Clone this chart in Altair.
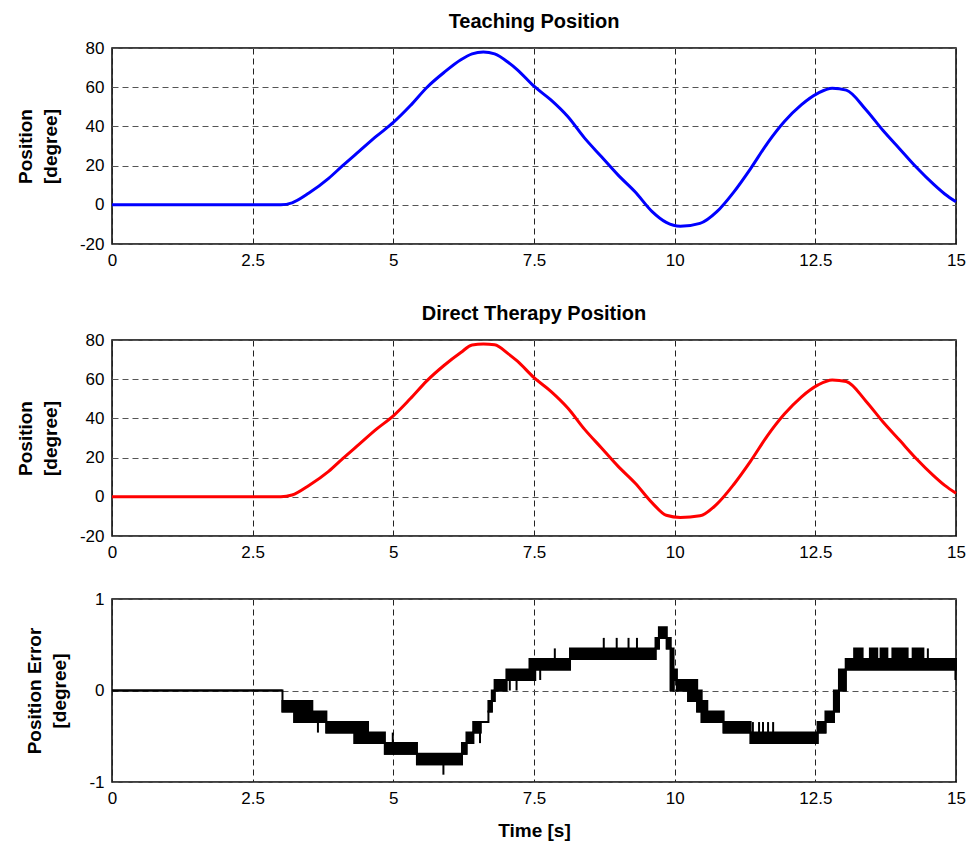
import altair as alt
import pandas as pd

# ---------------- data ----------------
time_s = [0, 3.0, 3.2, 3.5, 3.85, 4.1, 4.4, 4.7, 5.0, 5.3, 5.6, 5.9, 6.2, 6.4, 6.6,
          6.8, 7.05, 7.2, 7.5, 7.8, 8.1, 8.4, 8.7, 9.0, 9.3, 9.6, 9.85, 10.1, 10.45,
          10.75, 11.05, 11.35, 11.65, 11.95, 12.25, 12.55, 12.8, 13.05, 13.4, 13.7,
          14.0, 14.3, 14.6, 14.8, 15.0]
teaching_deg = [0, 0, 1.0, 6.0, 13.5, 20.0, 27.5, 35.0, 42.0, 50.5, 60.0, 67.5, 74.0,
                77.0, 78.0, 77.0, 72.5, 69.0, 60.5, 53.5, 45.0, 34.0, 24.5, 15.0, 6.5,
                -3.5, -9.0, -11.0, -9.5, -3.5, 6.5, 18.5, 31.5, 42.5, 51.0, 57.0, 59.5,
                58.5, 48.5, 38.0, 28.5, 19.0, 10.5, 5.5, 1.5]
direct_deg = [0, 0, 0.9, 5.8, 13.0, 19.5, 27.0, 34.5, 41.3, 50.0, 59.3, 67.0, 73.6,
              77.5, 78.0, 77.6, 72.8, 69.3, 60.8, 53.8, 45.3, 34.4, 24.9, 15.4, 6.9,
              -3.1, -9.4, -10.5, -9.7, -3.7, 6.3, 18.2, 31.2, 42.2, 50.9, 57.1, 59.6,
              58.8, 48.8, 38.3, 28.8, 19.3, 10.8, 5.8, 1.8]

# position error: quantised segments (start, end, lower level, upper level)
seg_start = [0, 3.03, 3.24, 3.56, 3.81, 4.31, 4.55, 4.85, 5.42, 6.22, 6.30, 6.42, 6.55,
             6.69, 6.75, 6.80, 7.01, 7.42, 7.52, 8.14, 9.66, 9.72, 9.86, 9.93, 9.98,
             10.04, 10.24, 10.40, 10.48, 10.58, 10.87, 11.35, 12.54, 12.68, 12.83,
             12.92, 13.04]
seg_end = [3.03, 3.24, 3.56, 3.81, 4.31, 4.55, 4.85, 5.42, 6.22, 6.30, 6.42, 6.55, 6.69,
           6.75, 6.80, 7.01, 7.42, 7.52, 8.14, 9.66, 9.72, 9.86, 9.93, 9.98, 10.04,
           10.24, 10.40, 10.48, 10.58, 10.87, 11.35, 12.54, 12.68, 12.83, 12.92,
           13.04, 15.0]
seg_low = [0, -0.23, -0.345, -0.345, -0.46, -0.575, -0.575, -0.69, -0.805, -0.69,
           -0.575, -0.46, -0.345, -0.23, -0.115, 0, 0.115, 0.115, 0.23, 0.345, 0.46,
           0.575, 0.46, 0, 0.115, 0, -0.115, -0.23, -0.345, -0.345, -0.46, -0.575,
           -0.46, -0.345, -0.23, 0, 0.23]
seg_high = [0, -0.115, -0.115, -0.23, -0.345, -0.345, -0.46, -0.575, -0.69, -0.575,
            -0.46, -0.345, -0.345, -0.115, 0, 0.115, 0.23, 0.345, 0.345, 0.46, 0.575,
            0.69, 0.575, 0.46, 0.23, 0.115, 0.115, 0, -0.115, -0.23, -0.345, -0.46,
            -0.345, -0.23, 0, 0.23, 0.345]

burst_start = [13.19, 13.47, 13.66, 13.87, 14.23]
burst_end = [13.34, 13.60, 13.78, 14.14, 14.42]
burst_low = [0.345, 0.345, 0.345, 0.345, 0.345]
burst_high = [0.46, 0.46, 0.46, 0.46, 0.46]

spike_time = [3.66, 4.99, 5.89, 6.54, 7.07, 7.19, 7.61, 7.87, 8.74, 8.97, 9.18, 9.33,
              11.39, 11.50, 11.57, 11.66, 11.75, 14.50, 14.99]
spike_low = [-0.46, -0.575, -0.92, -0.575, 0, 0, 0.115, 0.345, 0.46, 0.46, 0.46, 0.46,
             -0.46, -0.46, -0.46, -0.46, -0.46, 0.345, 0.115]
spike_high = [-0.345, -0.46, -0.805, -0.46, 0.115, 0.115, 0.23, 0.46, 0.575, 0.575,
              0.575, 0.575, -0.345, -0.345, -0.345, -0.345, -0.345, 0.46, 0.23]

x_ticks = [0, 2.5, 5, 7.5, 10, 12.5, 15]
pos_ticks = [-20, 0, 20, 40, 60, 80]
err_ticks = [-1, 0, 1]

# ---------------- tables ----------------
teach_df = pd.DataFrame({"t": time_s, "v": teaching_deg})
direct_df = pd.DataFrame({"t": time_s, "v": direct_deg})
seg_df = pd.DataFrame({"t0": seg_start, "t1": seg_end, "lo": seg_low, "hi": seg_high})
step_df = pd.DataFrame({"t": seg_start + [seg_end[-1]], "v": seg_low + [seg_low[-1]]})
burst_df = pd.DataFrame({"t0": burst_start, "t1": burst_end, "lo": burst_low, "hi": burst_high})
spike_df = pd.DataFrame({"t": spike_time, "lo": spike_low, "hi": spike_high})

FONT = "Liberation Sans"
W = 844
num_label = "datum.value < 0 ? '-' + toString(-datum.value) : toString(datum.value)"


def x_enc(field="t", title=None):
    return alt.X(f"{field}:Q", scale=alt.Scale(domain=[0, 15], nice=False, zero=False),
                 axis=alt.Axis(values=x_ticks, labelExpr=num_label, title=title,
                               gridColor="#222222", labelFlush=False,
                               labelPadding=8, titlePadding=15))


def y_pos():
    return alt.Y("v:Q", scale=alt.Scale(domain=[-20, 80], nice=False),
                 axis=alt.Axis(values=pos_ticks, labelExpr=num_label,
                               title=["Position", "[degree]"], gridColor="#555555",
                               labelPadding=8, titlePadding=19))


p1 = alt.Chart(teach_df).mark_line(color="#0000FF", strokeWidth=3,
                                   interpolate="monotone").encode(
    x=x_enc(), y=y_pos()
).properties(width=W, height=196, title="Teaching Position")

p2 = alt.Chart(direct_df).mark_line(color="#FF0000", strokeWidth=3,
                                    interpolate="monotone").encode(
    x=x_enc(), y=y_pos()
).properties(width=W, height=196, title="Direct Therapy Position")

y_err_scale = alt.Scale(domain=[-1, 1], nice=False)
err_rect = alt.Chart(seg_df).mark_rect(color="black", stroke="black", strokeWidth=2).encode(
    x=x_enc("t0", "Time [s]"), x2="t1:Q",
    y=alt.Y("lo:Q", scale=y_err_scale,
            axis=alt.Axis(values=err_ticks, labelExpr=num_label,
                          title=["Position Error", "[degree]"], gridColor="#555555",
                          labelPadding=8, titlePadding=19)),
    y2="hi:Q",
)
err_step = alt.Chart(step_df).mark_line(color="black", strokeWidth=2,
                                        interpolate="step-after").encode(
    x=alt.X("t:Q"), y=alt.Y("v:Q"))
err_burst = alt.Chart(burst_df).mark_rect(color="black", stroke="black", strokeWidth=2).encode(
    x="t0:Q", x2="t1:Q", y="lo:Q", y2="hi:Q")
err_spike = alt.Chart(spike_df).mark_rule(color="black", strokeWidth=2).encode(
    x="t:Q", y="lo:Q", y2="hi:Q")

p3 = alt.layer(err_rect, err_step, err_burst, err_spike).properties(width=W, height=183)

chart = alt.vconcat(alt.vconcat(p1, p2, spacing=34), p3, spacing=28).properties(
    padding={"left": 15, "top": 11, "right": 10, "bottom": 5},
    background="white",
).configure_view(
    stroke="black", strokeWidth=1.5
).configure_axis(
    labelFont=FONT, labelFontSize=17, labelColor="black",
    titleFont=FONT, titleFontSize=19, titleFontWeight="bold", titleColor="black",
    titleLineHeight=25,
    grid=True, gridDash=[6, 4], gridOpacity=1, gridWidth=1,
    domain=False, ticks=False,
).configure_title(
    font=FONT, fontSize=20, fontWeight="bold", color="black", offset=7
)

chart.save("out.html", embed_options={"renderer": "svg", "actions": False})
